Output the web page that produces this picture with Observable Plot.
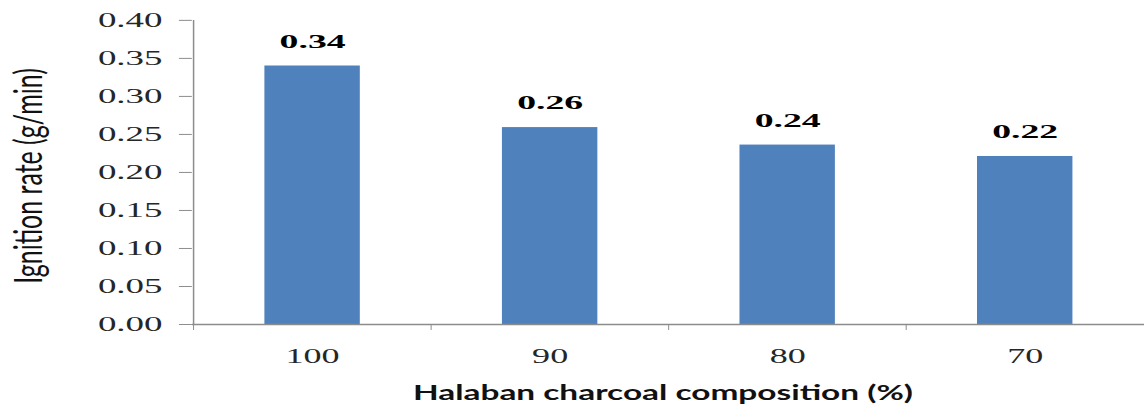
<!DOCTYPE html>
<html><head><meta charset="utf-8">
<script src="https://cdn.jsdelivr.net/npm/d3@7"></script>
<script src="https://cdn.jsdelivr.net/npm/@observablehq/plot@0.6"></script>
<style>
html,body{margin:0;padding:0;overflow:hidden;background:#fff;}
#chart svg{display:block;}
</style></head><body><div id="chart"></div>
<script>
const categories = ["100", "90", "80", "70"];
const values = [0.34, 0.259, 0.236, 0.221];
const valueLabels = ["0.34", "0.26", "0.24", "0.22"];
const yTicks = [0, 0.05, 0.10, 0.15, 0.20, 0.25, 0.30, 0.35, 0.40];
const xTitle = "Halaban charcoal composition (%)";
const yTitle = "Ignition rate (g/min)";

const data = categories.map((c, i) => ({cat: c, value: values[i], label: valueLabels[i]}));

const W = 1151, H = 409, mL = 193, mR = 0, mT = 20, mB = 83;
const pad = 0.6;
const step = (W - mL - mR) / categories.length;
const axisColor = "#8c8c8c";

const plot = Plot.plot({
  width: W, height: H,
  marginLeft: mL, marginRight: mR, marginTop: mT, marginBottom: mB,
  style: {background: "#fff", overflow: "visible"},
  x: {domain: categories, paddingInner: pad, paddingOuter: pad / 2},
  y: {domain: [0, 0.4]},
  marks: [
    Plot.barY(data, {x: "cat", y: "value", fill: "#4f81bd"}),
    Plot.ruleY([0], {stroke: axisColor, strokeWidth: 1.5}),
    Plot.ruleX([categories[0]], {dx: -step / 2, stroke: axisColor, strokeWidth: 1.5}),
    Plot.axisY({ticks: yTicks, tickFormat: d3.format(".2f"), tickSize: 13, tickPadding: 17,
      stroke: axisColor, fill: "#262626", fontFamily: "Liberation Serif", fontSize: 21, label: null}),
    Plot.axisX({tickSize: 6, tickFormat: () => "", dx: -step / 2, label: null, stroke: axisColor}),
    Plot.axisX({tickSize: 0, tickPadding: 23, label: null, fill: "#262626",
      fontFamily: "Liberation Serif", fontSize: 22}),
    Plot.text(data, {x: "cat", y: "value", text: "label", lineAnchor: "bottom", dy: -18.5,
      fontFamily: "Liberation Serif", fontWeight: "bold", fontSize: 20, fill: "#000"}),
    Plot.text([xTitle], {frameAnchor: "bottom", text: d => d, lineAnchor: "bottom", dy: 76, dx: -5.5,
      fontFamily: "Lato", fontWeight: "bold", fontSize: 21, fill: "#111"}),
    Plot.text([yTitle], {frameAnchor: "left", textAnchor: "middle", text: d => d, rotate: -90, lineAnchor: "bottom",
      dx: -151.3, dy: 3.5, fontFamily: "Lato", fontSize: 39, fill: "#111"})
  ]
});
document.getElementById("chart").append(plot);

// Horizontal stretch of the glyphs along their baseline, as in the reference picture
function stretchEls(els, factor, target) {
  els.forEach(t => {
    const len = t.getComputedTextLength();
    if (!len) return;
    t.setAttribute("textLength", target != null ? target : len * factor);
    t.setAttribute("lengthAdjust", "spacingAndGlyphs");
  });
}
stretchEls(plot.querySelectorAll('g[aria-label^="y-axis"] text'), 1.77);
stretchEls(plot.querySelectorAll('g[aria-label^="x-axis"] text'), 1.65);
const textGroups = plot.querySelectorAll('g[aria-label="text"]');
stretchEls(textGroups[0].querySelectorAll("text"), 1.9);
stretchEls(textGroups[1].querySelectorAll("text"), 1, 503);
stretchEls(textGroups[2].querySelectorAll("text"), 1, 217);
</script>
</body></html>
